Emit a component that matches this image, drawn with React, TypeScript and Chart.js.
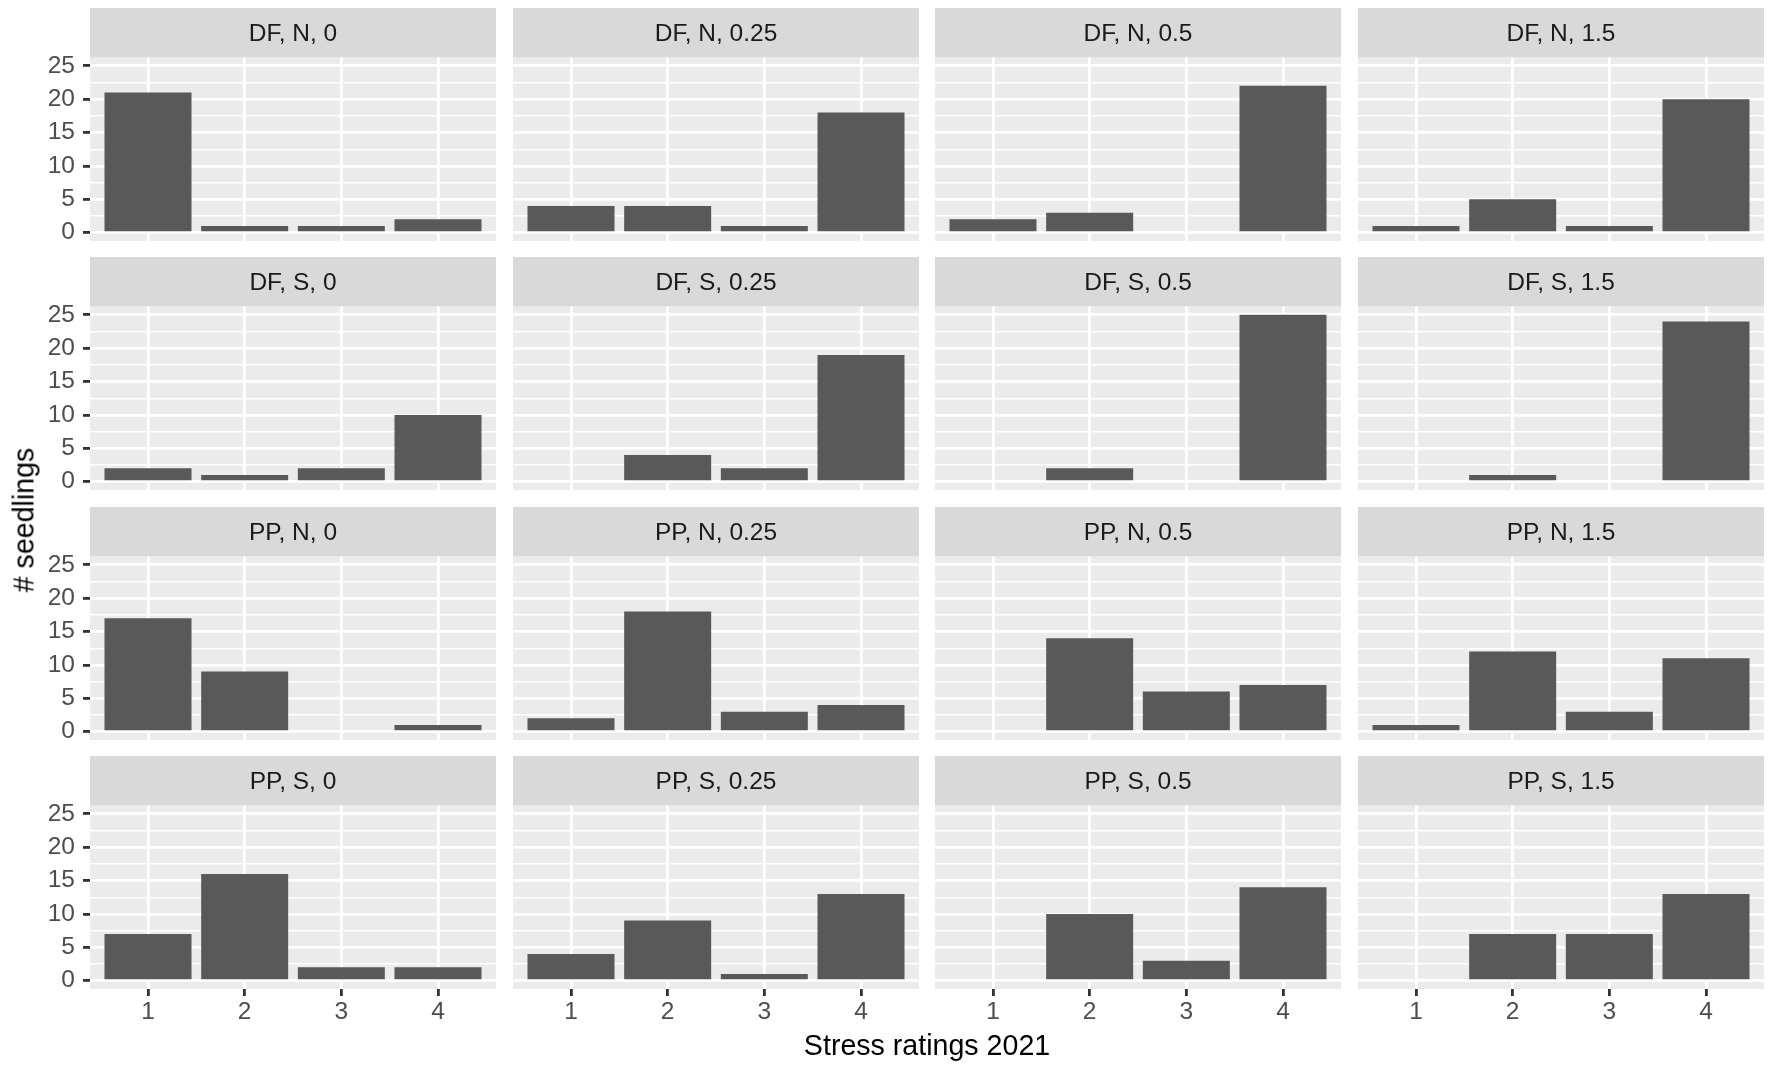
import { useEffect, useRef } from 'react';
import { Chart, registerables } from 'chart.js';

Chart.register(...registerables);

// ---- data ----
const RATINGS = [1, 2, 3, 4];
const SPECIES_SITE = ['DF, N', 'DF, S', 'PP, N', 'PP, S'];
const DOSES = ['0', '0.25', '0.5', '1.5'];
const Y_TICKS = [0, 5, 10, 15, 20, 25];
const Y_MINOR = [2.5, 7.5, 12.5, 17.5, 22.5];

// seedling counts per stress rating 1..4 (null = no bar)
const DF_N_0 = [21, 1, 1, 2];
const DF_N_025 = [4, 4, 1, 18];
const DF_N_05 = [2, 3, null, 22];
const DF_N_15 = [1, 5, 1, 20];
const DF_S_0 = [2, 1, 2, 10];
const DF_S_025 = [null, 4, 2, 19];
const DF_S_05 = [null, 2, null, 25];
const DF_S_15 = [null, 1, null, 24];
const PP_N_0 = [17, 9, null, 1];
const PP_N_025 = [2, 18, 3, 4];
const PP_N_05 = [null, 14, 6, 7];
const PP_N_15 = [1, 12, 3, 11];
const PP_S_0 = [7, 16, 2, 2];
const PP_S_025 = [4, 9, 1, 13];
const PP_S_05 = [null, 10, 3, 14];
const PP_S_15 = [null, 7, 7, 13];

const COUNTS: (number | null)[][][] = [
  [DF_N_0, DF_N_025, DF_N_05, DF_N_15],
  [DF_S_0, DF_S_025, DF_S_05, DF_S_15],
  [PP_N_0, PP_N_025, PP_N_05, PP_N_15],
  [PP_S_0, PP_S_025, PP_S_05, PP_S_15],
];

// ---- look ----
const FONT = '"Liberation Sans", Arial, Helvetica, sans-serif';
const TEXT_SIZE = 24.5;
const TITLE_SIZE = 28.6;
const PANEL_X0 = 90;
const PANEL_W = 406;
const PANEL_GAP = 16.7;
const ROW_Y0 = 7.5;
const ROW_PITCH = 249.5;
const STRIP_H = 49.5;
const PANEL_H = 183.5;
const AXIS_W = 90;
const AXIS_H = 50;
const MAJOR = 2.8;
const MINOR = 1.4;

const panelPlugin = {
  id: 'ggPanel',
  beforeDraw(chart: any, _args: any, opts: any) {
    const { ctx, chartArea } = chart;
    ctx.save();
    ctx.fillStyle = '#EBEBEB';
    ctx.fillRect(chartArea.left, chartArea.top, chartArea.right - chartArea.left, chartArea.bottom - chartArea.top);
    ctx.fillStyle = '#D9D9D9';
    ctx.fillRect(chartArea.left, 0, chartArea.right - chartArea.left, chartArea.top);
    ctx.fillStyle = '#1A1A1A';
    ctx.font = `${TEXT_SIZE}px ${FONT}`;
    ctx.textAlign = 'center';
    ctx.textBaseline = 'middle';
    ctx.fillText(opts.text, (chartArea.left + chartArea.right) / 2, chartArea.top / 2 + 1.5);
    ctx.restore();
  },
};

interface FacetProps {
  row: number;
  col: number;
}

function Facet({ row, col }: FacetProps) {
  const canvasRef = useRef<HTMLCanvasElement>(null);
  const showY = col === 0;
  const showX = row === SPECIES_SITE.length - 1;

  useEffect(() => {
    if (!canvasRef.current) return;
    const values = COUNTS[row][col];
    const label = `${SPECIES_SITE[row]}, ${DOSES[col]}`;

    const chart = new Chart(canvasRef.current, {
      type: 'bar',
      data: {
        datasets: [
          {
            data: RATINGS.map((r, i) => ({ x: r, y: values[i] })) as any,
            backgroundColor: '#595959',
            borderWidth: 0,
            barPercentage: 0.9,
            categoryPercentage: 1,
          },
        ],
      },
      options: {
        animation: false,
        responsive: true,
        maintainAspectRatio: false,
        layout: { padding: { top: STRIP_H, left: 0, right: 0, bottom: 0 } },
        plugins: {
          legend: { display: false },
          tooltip: { enabled: false },
          ggPanel: { text: label },
        } as any,
        scales: {
          x: {
            type: 'linear',
            min: 0.4,
            max: 4.6,
            offset: false,
            afterBuildTicks: (s: any) => {
              s.ticks = RATINGS.map((v) => ({ value: v }));
            },
            afterFit: (s: any) => {
              s.height = showX ? AXIS_H : 0;
              s.paddingLeft = 0;
              s.paddingRight = 0;
            },
            border: { display: false },
            grid: {
              offset: false,
              color: '#FFFFFF',
              lineWidth: MAJOR,
              drawTicks: showX,
              tickLength: 7,
              tickColor: '#333333',
              tickWidth: MAJOR,
            },
            ticks: {
              display: showX,
              autoSkip: false,
              maxRotation: 0,
              padding: 2,
              color: '#4D4D4D',
              font: { family: FONT, size: TEXT_SIZE },
              callback: (v: any) => String(v),
            },
          },
          y: {
            type: 'linear',
            min: -1.25,
            max: 26.25,
            afterBuildTicks: (s: any) => {
              s.ticks = [...Y_TICKS, ...Y_MINOR].sort((a, b) => a - b).map((v) => ({ value: v }));
            },
            afterFit: (s: any) => {
              s.width = showY ? AXIS_W : 0;
              s.paddingTop = 0;
              s.paddingBottom = 0;
            },
            border: { display: false },
            grid: {
              offset: false,
              color: '#FFFFFF',
              lineWidth: (c: any) => (Y_TICKS.includes(c.tick?.value) ? MAJOR : MINOR),
              drawTicks: showY,
              tickLength: 7,
              tickColor: (c: any) => (Y_TICKS.includes(c.tick?.value) ? '#333333' : 'rgba(0,0,0,0)'),
              tickWidth: (c: any) => (Y_TICKS.includes(c.tick?.value) ? MAJOR : 0),
            },
            ticks: {
              display: showY,
              autoSkip: false,
              padding: 8,
              color: '#4D4D4D',
              font: { family: FONT, size: TEXT_SIZE },
              callback: (v: any) => (Y_TICKS.includes(Number(v)) ? String(v) : ''),
            },
          },
        },
      },
      plugins: [panelPlugin],
    });

    return () => {
      chart.destroy();
    };
  }, [row, col, showX, showY]);

  const left = PANEL_X0 + col * (PANEL_W + PANEL_GAP) - (showY ? AXIS_W : 0);
  const top = ROW_Y0 + row * ROW_PITCH;
  const width = PANEL_W + (showY ? AXIS_W : 0);
  const height = STRIP_H + PANEL_H + (showX ? AXIS_H : 0);

  return (
    <div style={{ position: 'absolute', left, top, width, height }}>
      <canvas ref={canvasRef}></canvas>
    </div>
  );
}

export default function App() {
  const panelsRight = PANEL_X0 + 4 * PANEL_W + 3 * PANEL_GAP;
  return (
    <div
      style={{
        position: 'absolute',
        left: 0,
        top: 0,
        width: 1772,
        height: 1072,
        background: '#FFFFFF',
        fontFamily: FONT,
        overflow: 'hidden',
      }}
    >
      {SPECIES_SITE.map((_, r) =>
        DOSES.map((_, c) => <Facet key={`${r}-${c}`} row={r} col={c} />)
      )}
      <div
        style={{
          position: 'absolute',
          left: 24,
          top: 520,
          transform: 'translate(-50%, -50%) rotate(-90deg)',
          whiteSpace: 'nowrap',
          fontSize: TITLE_SIZE,
          color: '#000000',
        }}
      >
        # seedlings
      </div>
      <div
        style={{
          position: 'absolute',
          left: (PANEL_X0 + panelsRight) / 2,
          top: 1045,
          transform: 'translate(-50%, -50%)',
          whiteSpace: 'nowrap',
          fontSize: TITLE_SIZE,
          color: '#000000',
        }}
      >
        Stress ratings 2021
      </div>
    </div>
  );
}
